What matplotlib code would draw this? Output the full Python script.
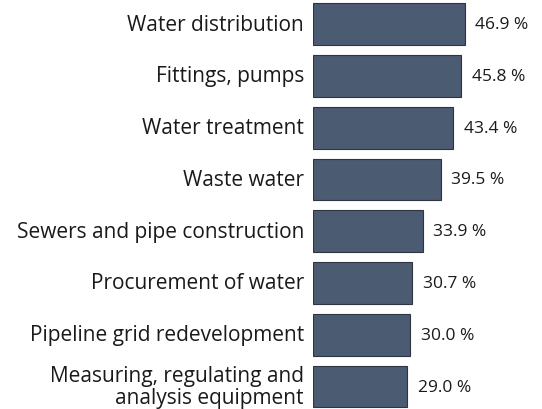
import matplotlib.pyplot as plt

categories = ['Water distribution', 'Fittings, pumps', 'Water treatment', 'Waste water',
              'Sewers and pipe construction', 'Procurement of water',
              'Pipeline grid redevelopment', 'Measuring, regulating and\nanalysis equipment']
values = [46.9, 45.8, 43.4, 39.5, 33.9, 30.7, 30.0, 29.0]

plt.rcParams['font.family'] = ['Open Sans', 'DejaVu Sans']

W, H = 542, 410
fig = plt.figure(figsize=(W / 100, H / 100), dpi=100)
x0 = 313.3
ax = fig.add_axes([x0 / W, 0, 1 - x0 / W, 1])

pos = list(range(len(values)))
ax.barh(pos, values, height=0.805, color='#4b5b72', edgecolor='#2e3540', linewidth=0.8)

ax.set_xlim(0, (W - x0) / 3.228)
ax.set_ylim(7.434, -0.486)

for p, v, c in zip(pos, values, categories):
    ax.text(v + 3.3, p, '%.1f %%' % v, va='center', ha='left', fontsize=12.5, color='#1a1a1a')
    ax.text(-2.9, p, c, va='center', ha='right', fontsize=15, color='#1a1a1a',
            linespacing=1.05)

ax.axis('off')
fig.savefig('out.png', dpi=100)
